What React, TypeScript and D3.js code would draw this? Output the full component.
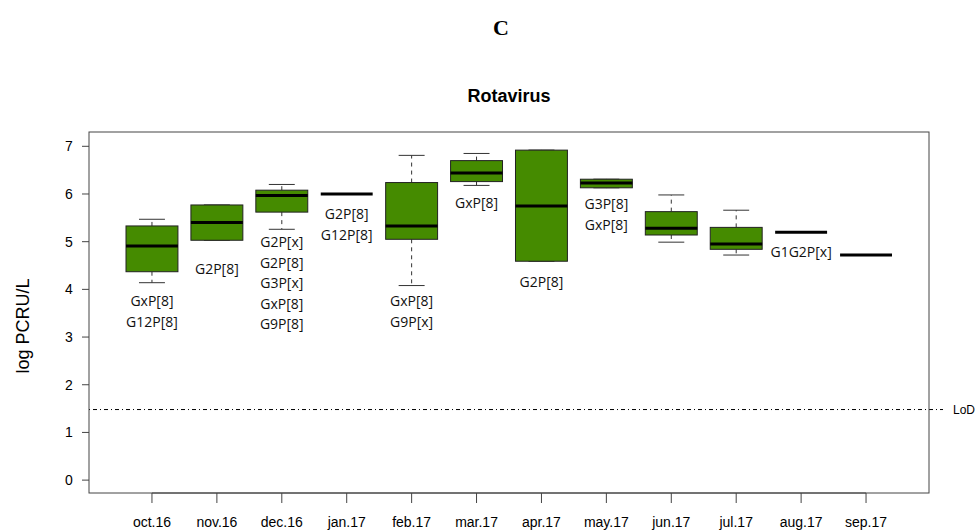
import React from 'react'
import { scaleLinear } from 'd3'

// months on the x axis
const months = ['oct.16', 'nov.16', 'dec.16', 'jan.17', 'feb.17', 'mar.17', 'apr.17', 'may.17', 'jun.17', 'jul.17', 'aug.17', 'sep.17']

// box stats (log PCRU/L)
const whiskerLow = [4.14, 5.03, 5.26, 6.0, 4.08, 6.18, 4.59, 6.13, 4.99, 4.72, 5.2, 4.72]
const q1 = [4.37, 5.03, 5.62, 6.0, 5.05, 6.26, 4.59, 6.13, 5.14, 4.84, 5.2, 4.72]
const median = [4.91, 5.4, 5.97, 6.0, 5.33, 6.44, 5.75, 6.23, 5.28, 4.95, 5.2, 4.72]
const q3 = [5.33, 5.77, 6.08, 6.0, 6.24, 6.7, 6.92, 6.31, 5.63, 5.3, 5.2, 4.72]
const whiskerHigh = [5.47, 5.77, 6.2, 6.0, 6.81, 6.85, 6.92, 6.31, 5.98, 5.66, 5.2, 4.72]

// genotype notes: month index, y of the first line, lines
const noteMonth = [0, 1, 2, 3, 4, 5, 6, 7, 10]
const noteY = [3.75, 4.42, 4.99, 5.58, 3.75, 5.81, 4.15, 5.79, 4.78]
const noteLines = [
  ['GxP[8]', 'G12P[8]'],
  ['G2P[8]'],
  ['G2P[x]', 'G2P[8]', 'G3P[x]', 'GxP[8]', 'G9P[8]'],
  ['G2P[8]', 'G12P[8]'],
  ['GxP[8]', 'G9P[x]'],
  ['GxP[8]'],
  ['G2P[8]'],
  ['G3P[8]', 'GxP[8]'],
  ['G1G2P[x]'],
]

const yTicks = [0, 1, 2, 3, 4, 5, 6, 7]
const lod = 1.48

export default function App() {
  const left = 89
  const right = 929
  const top = 132
  const bottom = 493

  const x = scaleLinear().domain([0.03, 12.97]).range([left, right])
  const y = scaleLinear().domain([-0.27, 7.3]).range([bottom, top])

  const boxW = (x(1) - x(0)) * 0.8
  const capW = boxW / 2
  const fill = '#458B00'
  const sans = 'Liberation Sans, Arial, sans-serif'
  const noteFont = 'Open Sans, sans-serif'

  return (
    <svg width={978} height={530} style={{ position: 'absolute', left: 0, top: 0 }}>
      <rect width={978} height={530} fill="#fff" />
      <text x={501} y={35} textAnchor="middle" fontFamily="Liberation Serif, serif" fontWeight="bold" fontSize={22}>
        C
      </text>
      <text x={(left + right) / 2} y={102} textAnchor="middle" fontFamily={sans} fontWeight="bold" fontSize={18}>
        Rotavirus
      </text>
      <text
        transform={`translate(29, 326) rotate(-90)`}
        textAnchor="middle"
        fontFamily={sans}
        fontSize={18}
      >
        log PCRU/L
      </text>

      {/* boxes */}
      {months.map((m, i) => {
        const cx = x(i + 1)
        const single = q1[i] === q3[i]
        return (
          <g key={m}>
            {!single && (
              <>
                <line x1={cx} x2={cx} y1={y(q3[i])} y2={y(whiskerHigh[i])} stroke="#333" strokeDasharray="4,4" />
                <line x1={cx} x2={cx} y1={y(q1[i])} y2={y(whiskerLow[i])} stroke="#333" strokeDasharray="4,4" />
                <line x1={cx - capW / 2} x2={cx + capW / 2} y1={y(whiskerHigh[i])} y2={y(whiskerHigh[i])} stroke="#333" />
                <line x1={cx - capW / 2} x2={cx + capW / 2} y1={y(whiskerLow[i])} y2={y(whiskerLow[i])} stroke="#333" />
                <rect
                  x={cx - boxW / 2}
                  y={y(q3[i])}
                  width={boxW}
                  height={y(q1[i]) - y(q3[i])}
                  fill={fill}
                  stroke="#222"
                  strokeWidth={1}
                />
              </>
            )}
            <line x1={cx - boxW / 2} x2={cx + boxW / 2} y1={y(median[i])} y2={y(median[i])} stroke="#000" strokeWidth={3} />
          </g>
        )
      })}

      {/* genotype notes */}
      {noteMonth.map((mi, k) => (
        <text key={k} fontFamily={noteFont} fontSize={14} textAnchor="middle" fill="#111">
          {noteLines[k].map((t, j) => (
            <tspan key={j} x={x(mi + 1)} y={y(noteY[k]) + 5 + j * 20.5}>
              {t}
            </tspan>
          ))}
        </text>
      ))}

      {/* limit of detection */}
      <line x1={left} x2={943} y1={y(lod)} y2={y(lod)} stroke="#000" strokeDasharray="1,3,4,3" />
      <text x={953} y={y(lod) + 4} fontFamily={sans} fontSize={12}>
        LoD
      </text>

      {/* frame */}
      <rect x={left} y={top} width={right - left} height={bottom - top} fill="none" stroke="#444" strokeWidth={1} />

      {/* y axis */}
      {yTicks.map((t) => (
        <g key={t}>
          <line x1={left - 7} x2={left} y1={y(t)} y2={y(t)} stroke="#444" />
          <text x={69} y={y(t) + 5} textAnchor="middle" fontFamily={sans} fontSize={14}>
            {t}
          </text>
        </g>
      ))}

      {/* x axis */}
      <line x1={x(1)} x2={x(12)} y1={bottom} y2={bottom} stroke="#444" />
      {months.map((m, i) => (
        <g key={m}>
          <line x1={x(i + 1)} x2={x(i + 1)} y1={bottom} y2={bottom + 10} stroke="#444" />
          <text x={x(i + 1)} y={527} textAnchor="middle" fontFamily={sans} fontSize={14}>
            {m}
          </text>
        </g>
      ))}
    </svg>
  )
}
